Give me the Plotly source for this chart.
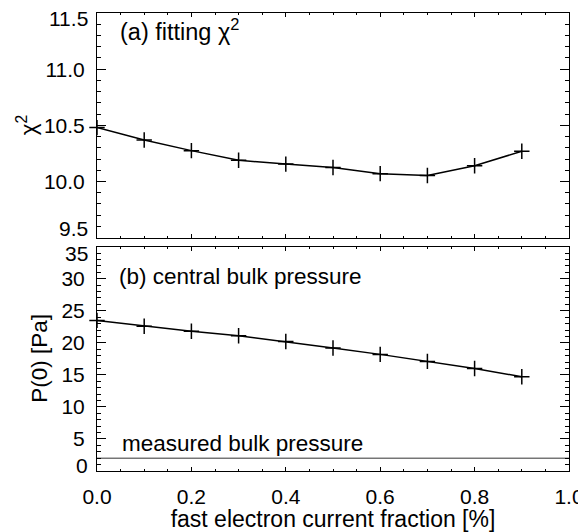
import plotly.graph_objects as go

fraction = [0.0, 0.1, 0.2, 0.3, 0.4, 0.5, 0.6, 0.7, 0.8, 0.9]
chi2 = [10.48, 10.37, 10.275, 10.19, 10.155, 10.125, 10.07, 10.053, 10.14, 10.27]
p0 = [23.5, 22.6, 21.8, 21.1, 20.2, 19.2, 18.2, 17.1, 16.0, 14.7]
measured_x = [0.0, 1.0]
measured_p = [2.0, 2.0]

chi_ticks = [9.5, 10.0, 10.5, 11.0, 11.5]
chi_labels = ["", "10.0", "10.5", "11.0", ""]
p_ticks = [0, 5, 10, 15, 20, 25, 30, 35]
p_labels = ["", "5", "10", "15", "20", "25", "30", ""]

FONT = "Liberation Sans, Arial, Helvetica, sans-serif"
TICK = 21
TXT = 22.5
fig = go.Figure()

mk = dict(symbol="cross-thin", size=11, line=dict(color="black", width=1.5))
fig.add_trace(go.Scatter(x=fraction, y=chi2, mode="lines+markers",
                         line=dict(color="black", width=1.5), marker=mk,
                         xaxis="x", yaxis="y", showlegend=False, cliponaxis=False))
fig.add_trace(go.Scatter(x=fraction, y=p0, mode="lines+markers",
                         line=dict(color="black", width=1.5), marker=mk,
                         xaxis="x2", yaxis="y2", showlegend=False, cliponaxis=False))
fig.add_trace(go.Scatter(x=measured_x, y=measured_p, mode="lines",
                         line=dict(color="#333333", width=1),
                         xaxis="x2", yaxis="y2", showlegend=False))

xcommon = dict(range=[0, 1], dtick=0.2, ticks="inside", ticklen=4, tickwidth=1,
               tickcolor="black", showline=True, linecolor="black", linewidth=1,
               mirror="ticks", showgrid=False, zeroline=False, automargin=False,
               tickfont=dict(size=TICK),
               minor=dict(dtick=0.05, ticks="inside", ticklen=2, tickcolor="black"))
ycommon = dict(ticks="inside", ticklen=9, tickwidth=1, tickcolor="black",
               showline=True, linecolor="black", linewidth=1, mirror="ticks",
               showgrid=False, zeroline=False, automargin=False,
               tickfont=dict(size=TICK), ticklabelstandoff=7, tickmode="array")

def end_label(text, yref, y, yshift):
    return dict(text=text, xref="paper", yref=yref, x=0, y=y, xshift=-7, yshift=yshift,
                xanchor="right", yanchor="middle", showarrow=False,
                font=dict(size=TICK))

fig.update_layout(
    width=578, height=524,
    margin=dict(l=89, r=17, t=5, b=61),
    plot_bgcolor="white", paper_bgcolor="white",
    font=dict(family=FONT, size=TXT, color="black"),
    xaxis=dict(**xcommon, anchor="y", showticklabels=False),
    yaxis=dict(**ycommon, domain=[0.5094, 1], range=[9.5, 11.5],
               tickvals=chi_ticks, ticktext=chi_labels, anchor="x",
               minor=dict(dtick=0.1, tick0=9.5, ticks="inside", ticklen=4,
                          tickcolor="black")),
    xaxis2=dict(**xcommon, anchor="y2", tickformat=".1f", ticklabelstandoff=7,
                title=dict(text="fast electron current fraction [%]", standoff=3,
                           font=dict(size=23))),
    yaxis2=dict(**ycommon, domain=[0, 0.4897], range=[0, 35],
                tickvals=p_ticks, ticktext=p_labels, anchor="x2",
                minor=dict(dtick=1, tick0=0, ticks="inside", ticklen=4,
                           tickcolor="black")),
    annotations=[
        end_label("11.5", "y", 11.5, -5),
        end_label("9.5", "y", 9.5, 9),
        end_label("35", "y2", 35, -7),
        end_label("0", "y2", 0, 5),
        dict(text="(a) fitting χ<sup>2</sup>", xref="x", yref="y", x=0.045, y=11.35,
             xanchor="left", yanchor="middle", showarrow=False, font=dict(size=23.5)),
        dict(text="(b) central bulk pressure", xref="x2", yref="y2", x=0.043, y=30.4,
             xanchor="left", yanchor="middle", showarrow=False, font=dict(size=TXT)),
        dict(text="measured bulk pressure", xref="x2", yref="y2", x=0.048, y=4.3,
             xanchor="left", yanchor="middle", showarrow=False, font=dict(size=TXT)),
        dict(text="χ<sup>2</sup>", xref="paper", yref="y", x=0, y=10.5, xshift=-70,
             textangle=-90, xanchor="center", yanchor="middle", showarrow=False,
             font=dict(size=TXT)),
        dict(text="P(0) [Pa]", xref="paper", yref="y2", x=0, y=17.5, xshift=-57,
             textangle=-90, xanchor="center", yanchor="middle", showarrow=False,
             font=dict(size=TXT)),
    ],
)

fig.write_html("out.html")
